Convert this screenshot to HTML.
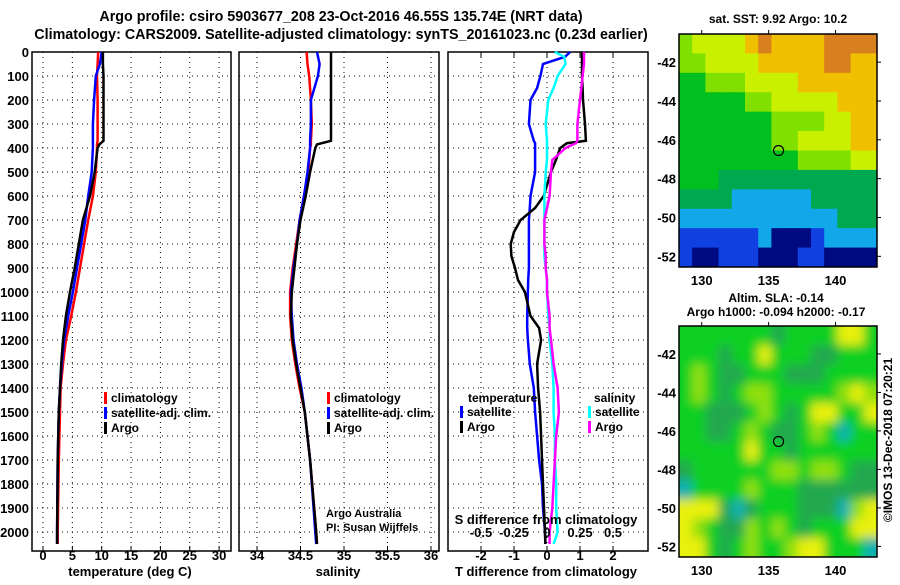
<!DOCTYPE html>
<html><head><meta charset="utf-8"><style>
body{margin:0;background:#fff}
svg text{font-family:"Liberation Sans",Arial,sans-serif;font-weight:bold;fill:#000}
</style></head><body>
<svg id="c" width="900" height="580" viewBox="0 0 900 580" xmlns="http://www.w3.org/2000/svg">
<text x="341" y="21" font-size="14.3" text-anchor="middle">Argo profile: csiro 5903677_208 23-Oct-2016 46.55S 135.74E (NRT data)</text>
<text x="341" y="39" font-size="14.3" text-anchor="middle">Climatology: CARS2009. Satellite-adjusted climatology: synTS_20161023.nc (0.23d earlier)</text>
<g id="g"></g>
</svg>
<script>
// ---- profile data ----
const depthsT = [0,50,100,200,300,370,385,400,500,600,700,800,900,1000,1100,1200,1300,1400,1500,1700,2000,2050];
const tempArgo = [10.2,10.2,10.3,10.3,10.3,10.3,9.6,9.3,8.8,8.0,6.8,6.1,5.4,4.6,3.9,3.4,3.1,2.9,2.7,2.5,2.4,2.4];
const tempClim = [9.4,9.3,9.2,9.3,9.3,9.3,9.2,9.2,9.0,8.5,7.7,7.0,6.3,5.6,4.8,3.9,3.4,3.0,2.9,2.7,2.5,2.5];
const tempSat  = [10.0,9.7,9.0,8.7,8.5,8.5,8.5,8.5,8.3,7.7,7.2,6.5,5.8,5.1,4.3,3.6,3.2,2.9,2.7,2.5,2.4,2.4];
const salArgo = [34.85,34.85,34.85,34.85,34.85,34.85,34.69,34.67,34.61,34.56,34.50,34.46,34.43,34.40,34.39,34.41,34.45,34.50,34.55,34.61,34.68,34.69];
const salClim = [34.57,34.58,34.60,34.62,34.63,34.62,34.62,34.61,34.59,34.54,34.49,34.45,34.41,34.38,34.38,34.40,34.44,34.49,34.55,34.61,34.68,34.69];
const salSat  = [34.69,34.72,34.70,34.62,34.62,34.61,34.61,34.61,34.58,34.54,34.49,34.46,34.42,34.39,34.40,34.42,34.46,34.51,34.55,34.61,34.67,34.68];
const depthsD = [0,20,50,100,150,200,300,370,380,400,450,500,600,650,700,750,800,850,900,950,1000,1100,1150,1200,1300,1400,1500,1600,1700,1800,1900,2000,2050];
const dTsat  = [0.7,0.55,-0.12,-0.2,-0.3,-0.5,-0.55,-0.4,-0.36,-0.36,-0.36,-0.36,-0.5,-0.52,-0.55,-0.55,-0.55,-0.55,-0.55,-0.57,-0.58,-0.6,-0.6,-0.58,-0.52,-0.4,-0.36,-0.3,-0.24,-0.15,-0.12,-0.06,-0.05];
const dTargo = [1.06,1.06,1.06,1.06,1.08,1.09,1.15,1.18,0.6,0.4,0.27,0.12,-0.1,-0.36,-0.8,-1.0,-1.1,-1.08,-0.97,-0.88,-0.67,-0.5,-0.24,-0.18,-0.3,-0.27,-0.21,-0.18,-0.15,-0.12,-0.09,-0.06,-0.05];
const dSsat  = [0.06,0.13,0.14,0.08,0.05,0.01,-0.01,0.0,0.0,0.0,0.0,-0.01,-0.02,-0.02,-0.02,-0.02,-0.02,-0.02,-0.01,0.0,0.0,0.01,0.02,0.02,0.04,0.05,0.05,0.06,0.06,0.07,0.07,0.08,0.05];
const dSargo = [0.28,0.28,0.28,0.27,0.26,0.25,0.23,0.23,0.22,0.14,0.04,0.03,0.02,0.0,-0.02,-0.02,-0.02,-0.01,-0.01,0.0,0.0,0.02,0.02,0.03,0.05,0.08,0.09,0.07,0.06,0.05,0.04,0.02,0.02];
const depthTicks = [0,100,200,300,400,500,600,700,800,900,1000,1100,1200,1300,1400,1500,1600,1700,1800,1900,2000];
const tTicks = [0,5,10,15,20,25,30];
const sTicks = [34,34.5,35,35.5,36];
const dTTicks = [-2,-1,0,1,2];
const dSTicks = [-0.5,-0.25,0,0.25,0.5];
const dSTickLabels = ["-0.5","-0.25","0","0.25","0.5"];
// ---- map data (color level per ~1deg cell, rows north->south) ----
const mapLons = [128.3,143.1];
const mapLats = [-40.55,-52.55];
const sstGrid = [
[5,6,6,6,6,7,8,7,7,7,7,8,8,8,8],
[5,5,6,6,6,6,7,7,7,7,7,8,8,7,7],
[4,4,5,5,5,6,6,6,6,7,7,7,7,7,7],
[4,4,4,4,4,5,5,6,6,6,6,6,7,7,7],
[4,4,4,4,4,4,4,5,5,5,5,6,6,7,7],
[4,4,4,4,4,4,4,5,5,6,6,6,6,7,7],
[4,4,4,4,4,4,4,4,4,5,5,5,5,6,6],
[4,4,4,3,3,3,3,3,3,3,3,3,3,3,3],
[3,3,3,3,2,2,2,2,2,2,3,3,3,3,3],
[2,2,2,2,2,2,2,2,2,2,2,2,3,3,3],
[1,1,1,1,1,1,2,0,0,0,1,2,2,2,2],
[1,0,0,1,1,1,0,0,0,1,1,0,0,0,0]];
const slaGrid = [
[4,4,4,4,4,4,4,3,4,4,4,4,6,6,4],
[4,4,4,3,4,4,6,4,4,4,3,3,4,4,4],
[4,5,4,3,3,4,4,4,3,3,3,4,4,4,4],
[4,5,4,3,4,5,5,4,4,4,4,4,5,6,5],
[4,4,3,3,3,4,5,4,3,4,6,6,4,4,6],
[4,4,3,3,4,5,4,3,3,4,5,4,2,4,4],
[4,4,4,4,4,6,4,4,3,4,4,4,4,4,4],
[3,4,4,4,4,4,4,5,5,4,5,5,4,3,3],
[2,4,4,4,4,5,4,4,4,3,3,3,3,3,3],
[6,6,6,3,2,3,4,4,4,3,3,3,2,5,6],
[6,5,4,3,3,5,4,5,4,3,4,4,4,6,6],
[6,6,4,3,4,5,4,4,5,6,6,4,4,4,2]];
const floatLon = 135.74, floatLat = -46.55;

const sstColors = ["#000a80","#1040e0","#10a8e8","#00a850","#00c020","#80e000","#c8f000","#f0c000","#d88020"];
const slaColors = ["#000a80","#1040e0","#10b0b0","#20a850","#10d020","#90e010","#e8f010","#f0c000"];

const NS="http://www.w3.org/2000/svg";
const G=document.getElementById('g');
function el(tag,attrs,parent){const e=document.createElementNS(NS,tag);for(const k in attrs)e.setAttribute(k,attrs[k]);(parent||G).appendChild(e);return e;}
function txt(x,y,s,size,anchor,parent){const t=el('text',{x:x,y:y,'font-size':size,'text-anchor':anchor||'middle'},parent);t.textContent=s;return t;}

const TOP=52, BOT=551, PXD=0.24;
const yD=d=>TOP+d*PXD;
const panels=[
 {x0:32,x1:231,xs:v=>43+v*5.87},
 {x0:239,x1:439,xs:v=>257+(v-34)*87},
 {x0:448,x1:648,xs:v=>547+v*33}
];
const sx3=v=>547+v*132;

function frame(p,name){
 const f=el('rect',{x:p.x0,y:TOP,width:p.x1-p.x0,height:BOT-TOP,fill:'none',stroke:'#000','stroke-width':1.5});
 
 
 depthTicks.forEach(d=>{
  const l=el('line',{x1:p.x0,x2:p.x1,y1:yD(d),y2:yD(d),stroke:'#000','stroke-width':1,'stroke-dasharray':'1,4'});
  
  
 });
}
function vgrid(p,ticks,fn){
 ticks.forEach(v=>{
  const l=el('line',{x1:fn(v),x2:fn(v),y1:TOP,y2:BOT,stroke:'#000','stroke-width':1,'stroke-dasharray':'1,4'});
  
  
  const t=el('line',{x1:fn(v),x2:fn(v),y1:BOT,y2:BOT-5,stroke:'#000','stroke-width':1});
  
  
 });
}
function line(vals,depths,fn,color,name){
 const pts=vals.map((v,i)=>fn(v).toFixed(1)+','+yD(depths[i]).toFixed(1)).join(' ');
 const pl=el('polyline',{points:pts,fill:'none',stroke:color,'stroke-width':2.5,'stroke-linejoin':'miter'});
 
 
}
function legend(x,y,items){
 items.forEach((it,i)=>{
  const r=el('rect',{x:x,y:y+i*15-10,width:3,height:12,fill:it[1]});
  
  
  const t=txt(x+7,y+i*15,it[0],12,'start');
  
  
 });
}

// panel 1
frame(panels[0],'temperature-panel');
vgrid(panels[0],tTicks,panels[0].xs);
line(tempClim,depthsT,panels[0].xs,'#ff0000','temp-climatology-line');
line(tempSat,depthsT,panels[0].xs,'#0000ff','temp-satellite-line');
line(tempArgo,depthsT,panels[0].xs,'#000','temp-argo-line');
depthTicks.forEach(d=>{const t=txt(29,yD(d)+5,String(d),13,'end');});
tTicks.forEach(v=>{const t=txt(panels[0].xs(v),560,String(v),13);});
let a=txt(130,576,'temperature (deg C)',13);
legend(104,402,[['climatology','#ff0000'],['satellite-adj. clim.','#0000ff'],['Argo','#000']]);

// panel 2
frame(panels[1],'salinity-panel');
vgrid(panels[1],sTicks,panels[1].xs);
line(salClim,depthsT,panels[1].xs,'#ff0000','sal-climatology-line');
line(salSat,depthsT,panels[1].xs,'#0000ff','sal-satellite-line');
line(salArgo,depthsT,panels[1].xs,'#000','sal-argo-line');
sTicks.forEach(v=>{const t=txt(panels[1].xs(v),560,String(v),13);});
a=txt(338,576,'salinity',13);
legend(327,402,[['climatology','#ff0000'],['satellite-adj. clim.','#0000ff'],['Argo','#000']]);
a=txt(326,517,'Argo Australia',11,'start');a.setAttribute('font-weight','normal');
a=txt(326,531,'PI: Susan Wijffels',11,'start');a.setAttribute('font-weight','normal');

// panel 3
frame(panels[2],'difference-panel');
vgrid(panels[2],dTTicks,panels[2].xs);
dSTicks.forEach(v=>{const t=el('line',{x1:sx3(v),x2:sx3(v),y1:TOP,y2:TOP+5,stroke:'#000'});});
line(dTsat,depthsD,panels[2].xs,'#0000ff','tdiff-satellite-line');
line(dTargo,depthsD,panels[2].xs,'#000','tdiff-argo-line');
line(dSsat,depthsD,sx3,'#00ffff','sdiff-satellite-line');
line(dSargo,depthsD,sx3,'#ff00ff','sdiff-argo-line');
dTTicks.forEach(v=>{const t=txt(panels[2].xs(v),560,String(v),13);});
dSTicks.forEach((v,i)=>{const t=txt(sx3(v),537,dSTickLabels[i],13);});
a=txt(546,524,'S difference from climatology',13);
a=txt(546,576,'T difference from climatology',13);
a=txt(468,402,'temperature',12,'start');
legend(460,416,[['satellite','#0000ff'],['Argo','#000']]);
a=txt(594,402,'salinity',12,'start');
legend(588,416,[['satellite','#00ffff'],['Argo','#ff00ff']]);

// maps
function map(x0,y0,y1,grid,colors,name,blur){
 const x1=877;
 const lx=lon=>x0+(lon-mapLons[0])/(mapLons[1]-mapLons[0])*(x1-x0);
 const ly=lat=>y0+(lat-mapLats[0])/(mapLats[1]-mapLats[0])*(y1-y0);
 const cid='clip'+name;
 const cp=el('clipPath',{id:cid});el('rect',{x:x0,y:y0,width:x1-x0,height:y1-y0},cp);
 const g=el('g',{'clip-path':'url(#'+cid+')'});
 
 
 const inner=el('g',blur?{filter:'url(#blur)'}:{},g);
 const rows=grid.length, cols=grid[0].length;
 const cw=(mapLons[1]-mapLons[0])/cols, ch=(mapLats[0]-mapLats[1])/rows;
 grid.forEach((row,r)=>row.forEach((v,c)=>{
  const xa=lx(mapLons[0]+c*cw), xb=lx(mapLons[0]+(c+1)*cw);
  const ya=ly(mapLats[0]-r*ch), yb=ly(mapLats[0]-(r+1)*ch);
  const pad=blur?10:0;
  const cell=el('rect',{x:xa-(c==0?pad:0),y:ya-(r==0?pad:0),width:xb-xa+0.6+(c==0||c==cols-1?pad:0),height:yb-ya+0.6+(r==0||r==rows-1?pad:0),fill:colors[v]},inner);
  
  
 }));
 const f=el('rect',{x:x0,y:y0,width:x1-x0,height:y1-y0,fill:'none',stroke:'#000','stroke-width':1.5});
 
 const m=el('circle',{cx:lx(floatLon),cy:ly(floatLat),r:5,fill:'none',stroke:'#000','stroke-width':1.2});
 
 [-42,-44,-46,-48,-50,-52].forEach(lat=>{
  const t=txt(x0-3,ly(lat)+5,String(lat),13,'end');
  el('line',{x1:x1,x2:x1+4,y1:ly(lat),y2:ly(lat),stroke:'#000'});
 });
 [130,135,140].forEach(lon=>{
  const t=txt(lx(lon),y1+18,String(lon),13);
  el('line',{x1:lx(lon),x2:lx(lon),y1:y0,y2:y0-4,stroke:'#000'});
 });
}
const defs=el('defs',{});
const flt=el('filter',{id:'blur',filterUnits:'userSpaceOnUse',x:600,y:290,width:300,height:290},defs);
el('feGaussianBlur',{stdDeviation:5},flt);
map(679,34,267,sstGrid,sstColors,'sst-map',false);
map(679,326,557,slaGrid,slaColors,'sla-map',true);
a=txt(778,23,'sat. SST: 9.92 Argo: 10.2',12);
a=txt(776,302,'Altim. SLA: -0.14',12);
a=txt(776,316,'Argo h1000: -0.094 h2000: -0.17',12);
a=txt(0,0,'©IMOS 13-Dec-2018 07:20:21',12);a.setAttribute('font-weight','normal');a.setAttribute('transform','translate(892,440) rotate(-90)');
</script>
</body></html>
